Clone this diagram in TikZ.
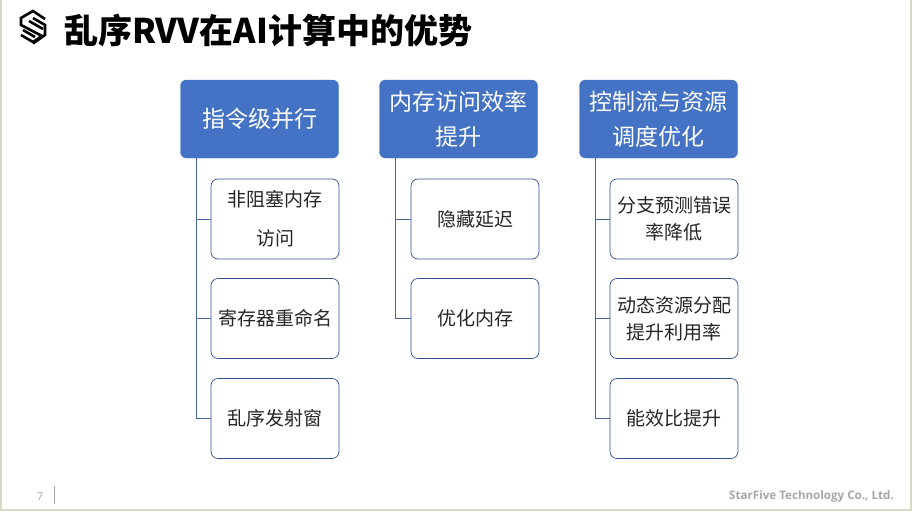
\documentclass[tikz,border=0pt]{standalone}
\usepackage{fontspec}
\setmainfont{Noto Sans CJK SC}
\newfontfamily\footfont{Open Sans}
\definecolor{headblue}{RGB}{68, 114, 196}
\definecolor{kidedge}{RGB}{47, 82, 143}
\definecolor{linkblue}{RGB}{72, 102, 158}
\definecolor{frameline}{RGB}{215, 217, 195}
\definecolor{footgray}{RGB}{166, 166, 166}
\tikzset{
	headbox/.style={draw=headblue, fill=headblue, rounded corners=6pt, minimum width=158pt, minimum height=78pt, align=center, text=white, font=\fontsize{23}{35}\selectfont, inner sep=0pt},
	kidbox/.style={draw=kidedge, fill=white, line width=0.7pt, rounded corners=7pt, minimum width=128pt, minimum height=80pt, align=center, text=black!85, font=\fontsize{19}{27}\selectfont, inner sep=0pt},
	link/.style={draw=linkblue, line width=1pt},
	logoline/.style={draw=black, line width=2.6pt, miter limit=3},
}
\begin{document}
\begin{tikzpicture}[x=1pt, y=-1pt]
	\useasboundingbox (0,0) rectangle (912,511);
	\fill[white] (0,0) rectangle (912,511);
	\draw[frameline, line width=2pt] (1,-2) -- (1,509.5) -- (910.5,509.5) -- (910.5,-2);
	% logo
	\draw[logoline] (45,19) -- (33,11) -- (21,18) -- (21,25) -- (42,36) -- (33,42) -- (21,35);
	\draw[logoline] (33,18) -- (45,25) -- (45,35) -- (33,43.5);
	\draw[logoline] (29,21) -- (43,29);
	\draw[logoline] (23,30) -- (35,37);
	\node[anchor=west, inner sep=0pt, font=\fontsize{34}{34}\selectfont\bfseries] (title) at (64,30) {乱序RVV在AI计算中的优势};
	% heads
	\node[headbox] (head1) at (259.5,119) {指令级并行};
	\node[headbox] (head2) at (458.5,119) {内存访问效率\\提升};
	\node[headbox] (head3) at (658.5,119) {控制流与资源\\调度优化};
	% kids
	\node[kidbox, font=\fontsize{19}{39}\selectfont] (kid11) at (275,219) {非阻塞内存\\访问};
	\node[kidbox] (kid12) at (275,318.5) {寄存器重命名};
	\node[kidbox] (kid13) at (275,418.5) {乱序发射窗};
	\node[kidbox] (kid21) at (475,219) {隐藏延迟};
	\node[kidbox] (kid22) at (475,318.5) {优化内存};
	\node[kidbox] (kid31) at (674,219) {分支预测错误\\率降低};
	\node[kidbox] (kid32) at (674,318.5) {动态资源分配\\提升利用率};
	\node[kidbox] (kid33) at (674,418.5) {能效比提升};
	% links
	\draw[link] ([xshift=16pt]head1.south west) |- (kid11.west);
	\draw[link] ([xshift=16pt]head1.south west) |- (kid12.west);
	\draw[link] ([xshift=16pt]head1.south west) |- (kid13.west);
	\draw[link] ([xshift=16pt]head2.south west) |- (kid21.west);
	\draw[link] ([xshift=16pt]head2.south west) |- (kid22.west);
	\draw[link] ([xshift=16pt]head3.south west) |- (kid31.west);
	\draw[link] ([xshift=16pt]head3.south west) |- (kid32.west);
	\draw[link] ([xshift=16pt]head3.south west) |- (kid33.west);
	% footer
	\node[text=footgray, font=\footfont\fontsize{11}{11}\selectfont] (pagenum) at (40,497) {7};
	\draw[footgray, line width=1pt] (54,486) -- (54,504);
	\node[anchor=east, inner sep=0pt, text=footgray, font=\footfont\bfseries\fontsize{11.6}{11.6}\selectfont] (company) at (894,496) {StarFive Technology Co., Ltd.};
\end{tikzpicture}
\end{document}
